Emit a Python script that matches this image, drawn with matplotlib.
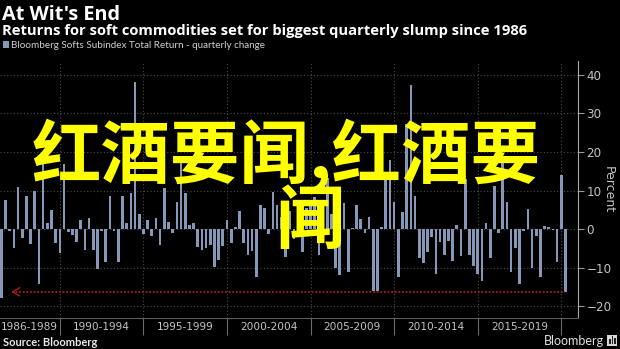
import numpy as np
import matplotlib
matplotlib.use("Agg")
import matplotlib.pyplot as plt
from matplotlib.patches import Rectangle

# Bloomberg Softs Subindex Total Return, quarterly change (%), Q2 1986 .. Q1 2020
first_quarter_end = 1986.5
quarterly_change = [
    -18.0, 7.5, -0.5, -5.0, 10.8, -2.4, 8.7, -4.0, 10.0, -14.3, 18.5, 1.5,
    4.9, -3.7, -6.1, 16.8, -0.7, -1.6, -3.4, 2.3, -5.5, 2.9, -5.5, -10.3,
    -0.4, -8.5, 8.6, -0.5, -8.5, 8.6, 1.6, 9.3, 38.1, 3.9, -1.3, 2.3,
    -1.7, 2.8, -4.2, 10.6, 1.9, -1.1, 6.9, 18.8, 9.3, 1.0, 1.5,
    -4.6, -5.5, -5.0, -4.2, -9.8, -8.1, -4.4, 2.3, -3.7, 0.6, 4.6, -3.7,
    -6.8, -5.7, -12.5, 6.3, 5.4, -1.3, 9.5, 6.2, 3.0, -7.2,
    4.8, -2.5, 3.0, -5.9, 5.4, 7.5, 8.2, -6.8, -3.0, 13.2, 4.0, -10.0,
    -12.0, 6.8, -11.1, 0.3, 6.2, 2.6, -1.1, 3.0, -16.0, -16.0, 0.4,
    13.6, 17.9, 7.1, -12.4, 4.5, 27.4, 37.4, 8.5, -7.5, -8.7, -5.9, -2.1,
    -11.7, -3.3, -6.8, -3.0, -8.3, 1.0, -6.9, 13.0, -6.8, -9.7, -11.8, -13.5,
    1.6, -7.4, 11.2, -1.0, 18.5, 6.9, -11.2, -4.8, -14.2, -0.6, 5.2, -10.0,
    -1.7, -12.4, 0.8, 0.4, -0.2, -8.5, 14.0, -16.3,
]
period_labels = ["1986-1989", "1990-1994", "1995-1999", "2000-2004",
                 "2005-2009", "2010-2014", "2015-2019"]
period_centers = [1988.2, 1992.5, 1997.5, 2002.5, 2007.5, 2012.5, 2017.5]
period_breaks = [1990, 1995, 2000, 2005, 2010, 2015, 2020]
y_ticks = [-20, -10, 0, 10, 20, 30, 40]

W, H = 620, 349
BG = "#000000"
BAR = "#8598b8"
GRID = "#4a4a4a"
TXT = "#c4c4c4"


def fx(x):
    return x / W


def fy(y):
    return 1 - y / H


fig = plt.figure(figsize=(W / 100, H / 100), dpi=100, facecolor=BG)
ax = fig.add_axes([0, fy(318), fx(578), (318 - 61.5) / H], facecolor=BG)

quarter_end = first_quarter_end + 0.25 * np.arange(len(quarterly_change))
ax.bar(quarter_end, quarterly_change, width=0.16, color=BAR, zorder=3)

ax.set_xlim(1986.42, 2021.0)
ax.set_ylim(-23.1, 43.5)

# grid
ax.set_xticks(period_breaks)
ax.set_xticklabels([])
ax.set_xticks(period_centers, minor=True)
ax.set_xticklabels(period_labels, minor=True)
ax.tick_params(axis="x", which="major", length=12, width=0.8, color="#6a6a6a",
               direction="out")
ax.tick_params(axis="x", which="minor", length=0, pad=3, labelsize=7.6,
               labelcolor=TXT)
ax.grid(True, which="major", color=GRID, linestyle=(0, (1, 2)), linewidth=0.8,
        zorder=0)

ax.yaxis.tick_right()
ax.set_yticks(y_ticks)
ax.tick_params(axis="y", length=4, width=0.8, color="#9a9a9a", pad=2,
               labelsize=8.6, labelcolor=TXT)

for side in ("top", "left"):
    ax.spines[side].set_visible(False)
ax.spines["right"].set_color("#a8a8a8")
ax.spines["right"].set_linewidth(0.8)
ax.spines["bottom"].set_color("#5a5a5a")
ax.spines["bottom"].set_linewidth(0.8)

# marker line at the latest quarter's level, pointing back to 1986
latest = quarterly_change[-1]
head_x = 1987.1
ax.plot([head_x + 0.05, quarter_end[-1]], [latest, latest], color="#a3201f",
        linestyle=(0, (1, 1)), linewidth=1.3, zorder=4)
ax.annotate("", xy=(head_x, latest), xytext=(head_x + 0.15, latest),
            arrowprops=dict(arrowstyle="->,head_length=0.5,head_width=0.3",
                            color="#a3201f", lw=1.0, shrinkA=0, shrinkB=0),
            zorder=4)

fig.text(fx(608), fy(190), "Percent", rotation=270, ha="center", va="center",
         fontsize=9, color=TXT)

# header
fig.text(fx(2), fy(20), "At Wit's End", fontsize=14.3, fontweight="bold",
         color="white", family="Open Sans", va="baseline")
fig.text(fx(2), fy(35), "Returns for soft commodities set for biggest quarterly slump since 1986",
         fontsize=10.6, fontweight="bold", color="white", family="Open Sans",
         va="baseline")
fig.add_artist(Rectangle((fx(3), fy(48)), 6 / W, 7 / H, transform=fig.transFigure,
                         facecolor=BAR, edgecolor="none"))
fig.text(fx(11), fy(45), "Bloomberg Softs Subindex Total Return - quarterly change",
         fontsize=7.1, color="#d0d0d0", family="Lato", va="center")

# footer
fig.text(fx(3), fy(342), "Source: Bloomberg", fontsize=8, fontweight="bold",
         color="#e8e8e8", family="Lato", va="center")
fig.text(fx(604), fy(341), "Bloomberg", fontsize=9, color="#e0e0e0",
         family="Lato", ha="right", va="center")
fig.add_artist(Rectangle((fx(607), fy(346)), 10 / W, 11 / H,
                         transform=fig.transFigure, facecolor="#d8d8d8",
                         edgecolor="none"))
for bx, bh in ((609, 5), (611.5, 8), (614, 6)):
    fig.add_artist(Rectangle((fx(bx), fy(344)), 1.5 / W, bh / H,
                             transform=fig.transFigure, facecolor="#202020",
                             edgecolor="none"))

# headline overlay
cjk = ["Noto Sans CJK SC", "DejaVu Sans"]
fig.text(fx(286), fy(178), "红酒要闻,红酒要", fontsize=50, fontweight="bold",
         color="#ffff00", family=cjk, ha="center", va="baseline", zorder=10)
fig.text(fx(310), fy(243), "闻", fontsize=50, fontweight="bold",
         color="#ffff00", family=cjk, ha="center", va="baseline", zorder=10)

fig.savefig("out.png", dpi=100, facecolor=BG)
